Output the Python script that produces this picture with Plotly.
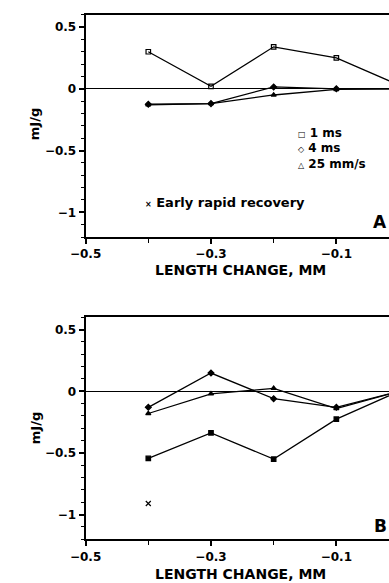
import plotly.graph_objects as go

# ---- data ----
length_change = [-0.4, -0.3, -0.2, -0.1, 0.0]

a_1ms = [0.30, 0.02, 0.34, 0.25, 0.03]
a_4ms = [-0.125, -0.12, 0.015, 0.0, 0.0]
a_25mms = [-0.13, -0.12, -0.05, -0.005, 0.0]

b_1ms = [-0.544, -0.337, -0.55, -0.226, 0.0]
b_4ms = [-0.13, 0.148, -0.06, -0.13, 0.0]
b_25mms = [-0.18, -0.02, 0.024, -0.14, 0.0]

b_early_x = [-0.4]
b_early_y = [-0.91]

y_ticks = [0.5, 0, -0.5, -1]
x_ticks = [-0.5, -0.3, -0.1]

FONT = "DejaVu Sans"
W, H = 389, 583

fig = go.Figure()

def add_series(x, y, symbol, xa, ya, size=4.5, mode="lines+markers"):
    fig.add_trace(go.Scatter(
        x=x, y=y, mode=mode, xaxis=xa, yaxis=ya,
        line=dict(color="black", width=1.3),
        marker=dict(symbol=symbol, size=size, color="black",
                    line=dict(color="black", width=1.2)),
        showlegend=False, hoverinfo="skip"))

add_series(length_change, a_1ms, "square-open", "x", "y")
add_series(length_change, a_4ms, "diamond", "x", "y")
add_series(length_change, a_25mms, "triangle-up", "x", "y")

add_series(length_change, b_1ms, "square", "x2", "y2")
add_series(length_change, b_4ms, "diamond", "x2", "y2")
add_series(length_change, b_25mms, "triangle-up", "x2", "y2")
add_series(b_early_x, b_early_y, "x-thin", "x2", "y2", size=5, mode="markers")

x_dom = [72.6 / W, 1.0]
top_dom = [1 - 237 / H, 1 - 14.7 / H]
bot_dom = [1 - 539.3 / H, 1 - 317.3 / H]

tickfont = dict(family=FONT, size=12, color="black", weight="bold")

def xaxis_cfg(anchor):
    return dict(domain=x_dom, anchor=anchor, range=[-0.5, -0.016],
                showline=True, linewidth=2, linecolor="black", mirror=True,
                ticks="outside", ticklen=5, tickwidth=1.5, tickcolor="black",
                tickmode="array", tickvals=x_ticks,
                ticktext=["\u22120.5", "\u22120.3", "\u22120.1"],
                minor=dict(tickmode="array", tickvals=[-0.4, -0.2], ticks="outside",
                           ticklen=4, tickwidth=1.2, tickcolor="black"),
                showgrid=False, zeroline=False, tickfont=tickfont)

def yaxis_cfg(anchor, dom):
    return dict(domain=dom, anchor=anchor, range=[-1.2, 0.6],
                showline=True, linewidth=2, linecolor="black", mirror=False,
                ticks="outside", ticklen=5, tickwidth=1.5, tickcolor="black",
                tickmode="array", tickvals=y_ticks,
                ticktext=["0.5", "0", "\u22120.5", "\u22121"],
                minor=dict(dtick=0.1, tick0=0, ticks="outside", ticklen=3,
                           tickwidth=1.2, tickcolor="black"),
                showgrid=False, zeroline=True, zerolinecolor="black",
                zerolinewidth=1, tickfont=tickfont)

fig.update_layout(
    width=W, height=H,
    margin=dict(l=0, r=0, t=0, b=0),
    paper_bgcolor="white", plot_bgcolor="white",
    xaxis=xaxis_cfg("y"),
    yaxis=yaxis_cfg("x", top_dom),
    xaxis2=xaxis_cfg("y2"),
    yaxis2=yaxis_cfg("x2", bot_dom),
)

def ann(text, x, y, size=12, xanchor="left", textangle=0):
    fig.add_annotation(text=text, x=x / W, y=1 - y / H, xref="paper", yref="paper",
                       xanchor=xanchor, yanchor="middle", showarrow=False,
                       textangle=textangle, borderpad=0,
                       font=dict(family=FONT, size=size, color="black", weight="bold"))

# axis titles
ann("LENGTH CHANGE, MM", 234, 270, size=14, xanchor="center")
ann("LENGTH CHANGE, MM", 234, 574, size=14, xanchor="center")
ann("mJ/g", 20, 124, size=13, xanchor="center", textangle=-90)
ann("mJ/g", 20, 428, size=13, xanchor="center", textangle=-90)

# panel letters
ann("A", 388, 222, size=17, xanchor="right")
ann("B", 388, 526, size=17, xanchor="right")

# legend (top panel)
sym = "<span style='font-size:8px'>{}</span>"
ann(sym.format("\u25a1") + " 1 ms", 293, 133, size=12)
ann(sym.format("\u25c7") + " 4 ms", 293, 148, size=12)
ann(sym.format("\u25b3") + " 25 mm/s", 293, 164, size=12)
ann(sym.format("\u00d7") + " Early rapid recovery", 134, 202, size=13)

fig.write_html("out.html")
